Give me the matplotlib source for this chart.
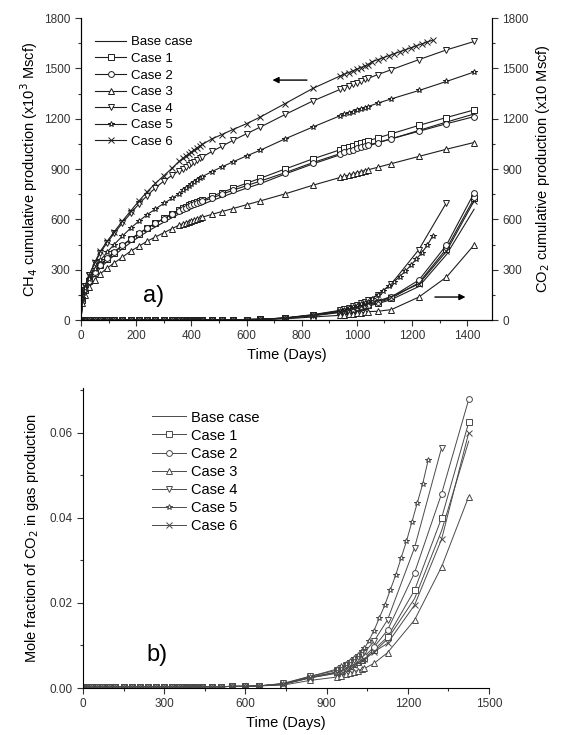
import numpy as np
import matplotlib.pyplot as plt
from matplotlib.ticker import MultipleLocator, FormatStrFormatter

plt.rcParams['font.family'] = ['Liberation Sans', 'DejaVu Sans']

# time steps (days) shared by most runs
T = [0, 5, 15, 30, 50, 70, 95, 120, 150, 180, 210, 240, 270, 300, 330, 355,
     370, 380, 390, 400, 410, 420, 430, 440,
     475, 510, 550, 600, 650, 740, 840,
     940, 955, 970, 985, 1000, 1015, 1030, 1040,
     1075, 1125, 1225, 1325, 1425]
# fine time steps near the end of the Case 5 / Case 6 runs
t_dense = [1055, 1075, 1095, 1115, 1135, 1155, 1175, 1195, 1215, 1235, 1255, 1275]
t_to_1040 = T[:39]
t_short = t_to_1040 + t_dense

labels = ['Base case', 'Case 1', 'Case 2', 'Case 3', 'Case 4', 'Case 5', 'Case 6']
markers = [None, 's', 'o', '^', 'v', '*', 'x']

# CH4 cumulative production (x10^3 Mscf)
ch4_base = [0, 115, 170, 220, 270, 310, 350, 385, 425, 462, 495, 527, 555, 583, 610, 632,
            645, 652, 659, 665, 671, 677, 683, 689,
            712, 733, 757, 786, 813, 870, 930,
            985, 993, 1001, 1009, 1017, 1024, 1031, 1037,
            1055, 1080, 1130, 1180, 1228]
ch4_c1 = [0, 120, 178, 230, 282, 325, 366, 402, 443, 481, 515, 548, 577, 606, 634, 656,
          669, 676, 683, 690, 696, 702, 708, 714,
          738, 760, 785, 815, 845, 900, 960,
          1015, 1023, 1031, 1039, 1047, 1055, 1063, 1068,
          1085, 1110, 1160, 1207, 1252]
ch4_c2 = [0, 125, 182, 235, 287, 330, 370, 406, 446, 483, 516, 548, 576, 604, 630, 651,
          663, 670, 677, 683, 689, 695, 701, 707,
          728, 749, 773, 801, 828, 878, 938,
          992, 1000, 1008, 1016, 1024, 1031, 1038, 1042,
          1058, 1080, 1125, 1170, 1212]
ch4_c3 = [0, 100, 150, 195, 240, 275, 310, 340, 375, 410, 440, 470, 495, 520, 545, 565,
          575, 581, 587, 593, 598, 603, 608, 613,
          630, 646, 664, 687, 710, 752, 803,
          850, 857, 864, 871, 878, 885, 891, 895,
          910, 932, 975, 1018, 1058]
ch4_c4 = [0, 138, 202, 266, 340, 402, 462, 516, 578, 636, 692, 742, 788, 828, 862, 890,
          903, 913, 923, 933, 943, 953, 963, 972,
          1005, 1035, 1070, 1110, 1150, 1225, 1305,
          1375, 1385, 1395, 1405, 1415, 1425, 1435, 1440,
          1462, 1492, 1552, 1610, 1660]
ch4_c5 = [0, 130, 190, 245, 305, 355, 405, 450, 500, 548, 590, 628, 662, 695, 725, 752,
          775, 788, 800, 812, 823, 834, 845, 855,
          885, 912, 942, 978, 1012, 1080, 1150,
          1218, 1226, 1234, 1242, 1250, 1258, 1266, 1272,
          1292, 1318, 1368, 1422, 1478]
ch4_c6 = [0, 140, 205, 270, 345, 410, 470, 525, 590, 650, 710, 765, 815, 860, 905, 945,
          965, 978, 990, 1002, 1014, 1026, 1037, 1047,
          1080, 1105, 1135, 1170, 1210, 1290, 1380,
          1455, 1465, 1475, 1485, 1495, 1505, 1515, 1522,
          1540, 1551, 1563, 1575, 1587, 1599, 1610, 1622, 1634, 1645, 1657, 1668]

# CO2 cumulative production (x10 Mscf); all runs are ~0 up to 650 days
co2_early = [0, 0, 0, 0, 0, 0, 0, 0, 0, 0, 0, 0, 0, 0, 0, 0,
             0, 0, 0, 0, 0, 0, 0, 0, 1, 1, 2, 3, 4]
co2_base = co2_early + [10, 25, 45, 50, 55, 61, 67, 73, 79, 83, 97, 122, 200, 390, 660]
co2_c1 = co2_early + [11, 27, 48, 54, 60, 66, 72, 78, 84, 88, 103, 130, 222, 425, 725]
co2_c2 = co2_early + [11, 28, 50, 56, 62, 68, 75, 81, 87, 92, 108, 137, 238, 447, 757]
co2_c3 = co2_early + [7, 18, 28, 31, 34, 37, 40, 43, 47, 50, 52, 62, 137, 256, 447]
co2_c4 = co2_early + [13, 32, 58, 65, 73, 81, 90, 99, 109, 118, 150, 215, 420, 700]
co2_c5 = co2_early + [12, 30, 55, 62, 70, 78, 86, 94, 103, 110,
                      125, 150, 175, 200, 228, 258, 290, 325, 362, 400, 445, 500]
co2_c6 = co2_early + [12, 29, 52, 58, 65, 72, 79, 86, 94, 100, 113, 140, 215, 410, 710]

# mole fraction of CO2 in produced gas
mf_early = [0, 0.0002, 0.0003, 0.0003, 0.0003, 0.0003, 0.0003, 0.0003, 0.0003, 0.0003,
            0.0003, 0.0003, 0.0003, 0.0003, 0.0003, 0.0003, 0.0003, 0.0003, 0.0003, 0.0003,
            0.0003, 0.0003, 0.0003, 0.0003, 0.0003, 0.0003, 0.0004, 0.0004, 0.0005]
mf_base = mf_early + [0.0009, 0.0024, 0.0035, 0.0039, 0.0043, 0.0048, 0.0053, 0.0058,
                      0.0063, 0.0067, 0.0085, 0.0115, 0.021, 0.037, 0.058]
mf_c1 = mf_early + [0.0009, 0.0025, 0.0037, 0.0041, 0.0046, 0.0051, 0.0056, 0.0062,
                    0.0067, 0.0071, 0.009, 0.012, 0.023, 0.040, 0.0624]
mf_c2 = mf_early + [0.001, 0.0026, 0.0038, 0.0043, 0.0048, 0.0054, 0.0059, 0.0065,
                    0.0071, 0.0075, 0.0096, 0.0136, 0.0271, 0.0457, 0.0678]
mf_c3 = mf_early + [0.0007, 0.0018, 0.0026, 0.0029, 0.0032, 0.0035, 0.0038, 0.0041,
                    0.0044, 0.0046, 0.0058, 0.0083, 0.016, 0.0285, 0.045]
mf_c4 = mf_early + [0.0011, 0.0028, 0.0042, 0.0047, 0.0053, 0.0059, 0.0065, 0.0072,
                    0.0079, 0.0084, 0.011, 0.016, 0.033, 0.0565]
mf_c5 = mf_early + [0.001, 0.0027, 0.0045, 0.0051, 0.0057, 0.0064, 0.0071, 0.0078,
                    0.0086, 0.0093,
                    0.011, 0.0135, 0.0165, 0.0195, 0.023, 0.0265, 0.0305, 0.0345,
                    0.039, 0.0435, 0.048, 0.0535]
mf_c6 = mf_early + [0.0009, 0.0024, 0.0036, 0.004, 0.0045, 0.005, 0.0055, 0.006,
                    0.0065, 0.0069, 0.0085, 0.0105, 0.0195, 0.035, 0.060]

ch4_t = [T, T, T, T, T, T, t_short]
ch4_v = [ch4_base, ch4_c1, ch4_c2, ch4_c3, ch4_c4, ch4_c5, ch4_c6]
co2_t = [T, T, T, T, T[:43], t_short, T]
co2_v = [co2_base, co2_c1, co2_c2, co2_c3, co2_c4, co2_c5, co2_c6]
mf_v = [mf_base, mf_c1, mf_c2, mf_c3, mf_c4, mf_c5, mf_c6]

top_col = '#1e1e1e'
bot_col = '#4a4a4a'

fig = plt.figure(figsize=(5.65, 7.35), dpi=100)

# ---- a) cumulative production
ax1 = fig.add_axes([0.1434, 0.5646, 0.7274, 0.4109])
ax1r = ax1.twinx()

def draw(ax, t, v, mk, col, lw):
    return ax.plot(t, v, color=col, lw=lw, marker=mk, ms=4.2, mfc='white',
                   mec=col, mew=0.7)[0]

handles = []
for t, v, mk, lab in zip(ch4_t, ch4_v, markers, labels):
    h = draw(ax1, t, v, mk, top_col, 0.8)
    h.set_label(lab)
    handles.append(h)
for t, v, mk in zip(co2_t, co2_v, markers):
    draw(ax1r, t, v, mk, top_col, 0.8)

for ax in (ax1, ax1r):
    ax.set_xlim(0, 1490)
    ax.set_ylim(0, 1800)
    ax.yaxis.set_major_locator(MultipleLocator(300))
    ax.yaxis.set_minor_locator(MultipleLocator(150))
    ax.spines['top'].set_visible(False)
    ax.tick_params(which='both', direction='out', labelsize=8.5, colors='#333333', width=0.8)
    ax.tick_params(which='major', length=4)
    ax.tick_params(which='minor', length=2)
ax1.xaxis.set_major_locator(MultipleLocator(200))
ax1.xaxis.set_minor_locator(MultipleLocator(100))

ax1.set_xlabel('Time (Days)', fontsize=10.5, labelpad=4)
ax1.set_ylabel('CH$_4$ cumulative production (x10$^3$ Mscf)', fontsize=10.5, labelpad=3)
ax1r.set_ylabel('CO$_2$ cumulative production (x10 Mscf)', fontsize=10.5, labelpad=4)

ax1.legend(handles=handles, loc='upper left', bbox_to_anchor=(0.035, 0.94),
           frameon=False, fontsize=9.5, handlelength=2.3, handletextpad=0.4,
           labelspacing=0.33, borderpad=0, borderaxespad=0)

ax1.annotate('', xy=(684, 1430), xytext=(829, 1430),
             arrowprops=dict(arrowstyle='-|>', color='black', lw=1, mutation_scale=9))
ax1r.annotate('', xy=(1404, 137), xytext=(1273, 137),
              arrowprops=dict(arrowstyle='-|>', color='black', lw=1, mutation_scale=9))
ax1.text(262, 145, 'a)', fontsize=17, ha='center', va='center')

# ---- b) mole fraction of CO2
ax2 = fig.add_axes([0.1469, 0.0639, 0.7186, 0.4082])
handles2 = []
for t, v, mk, lab in zip(co2_t, mf_v, markers, labels):
    h = draw(ax2, t, v, mk, bot_col, 0.7)
    h.set_label(lab)
    handles2.append(h)

ax2.set_xlim(0, 1500)
ax2.set_ylim(0, 0.0705)
ax2.xaxis.set_major_locator(MultipleLocator(300))
ax2.xaxis.set_minor_locator(MultipleLocator(150))
ax2.yaxis.set_major_locator(MultipleLocator(0.02))
ax2.yaxis.set_minor_locator(MultipleLocator(0.01))
ax2.yaxis.set_major_formatter(FormatStrFormatter('%.2f'))
ax2.spines['top'].set_visible(False)
ax2.spines['right'].set_visible(False)
ax2.tick_params(which='both', direction='out', labelsize=8.5, colors='#333333', width=0.8)
ax2.tick_params(which='major', length=4)
ax2.tick_params(which='minor', length=2)
ax2.set_xlabel('Time (Days)', fontsize=10.5, labelpad=4)
ax2.set_ylabel('Mole fraction of CO$_2$ in gas production', fontsize=10.5, labelpad=6)

ax2.legend(handles=handles2, loc='upper left', bbox_to_anchor=(0.17, 0.925),
           frameon=False, fontsize=10.5, handlelength=2.3, handletextpad=0.4,
           labelspacing=0.28, borderpad=0, borderaxespad=0)
ax2.text(274, 0.0078, 'b)', fontsize=17, ha='center', va='center')

fig.savefig('out.png', dpi=100)
